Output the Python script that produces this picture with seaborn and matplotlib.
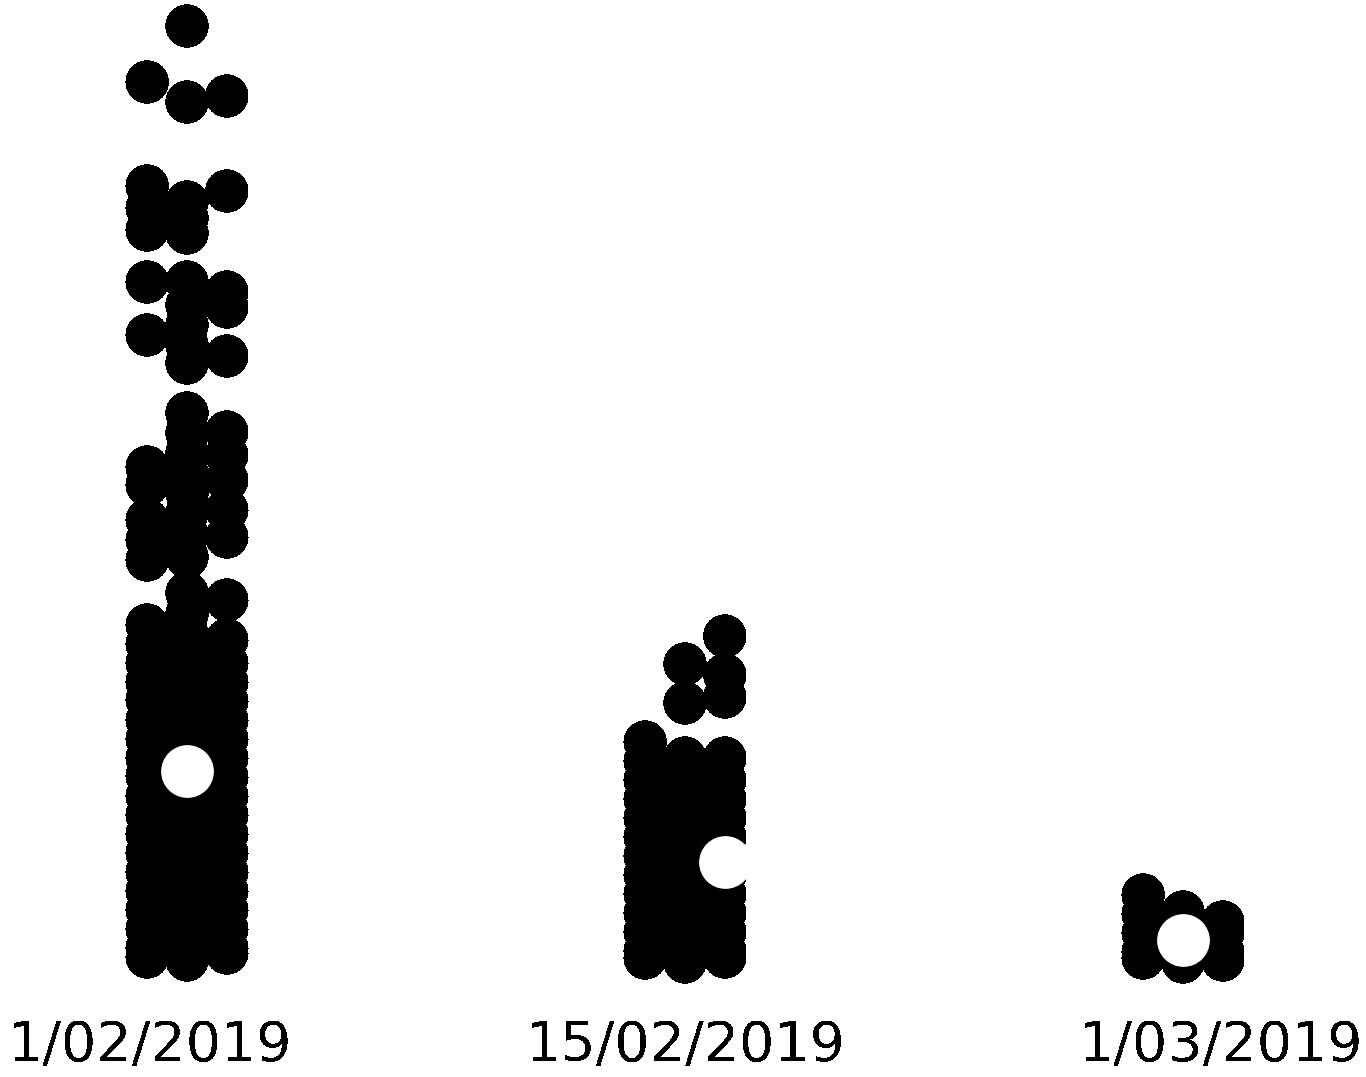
import numpy as np
import pandas as pd
import matplotlib
matplotlib.use("Agg")
import matplotlib.pyplot as plt
import matplotlib.transforms as mtransforms
import seaborn as sns

# ---------------------------------------------
# data (no value axis in the original, so the units are arbitrary)
# each date is drawn as three columns of dots: left / centre / right
# ---------------------------------------------
dates = ["1/02/2019", "15/02/2019", "1/03/2019"]

left_0102 = [88.0, 77.6, 75.4, 73.2, 68.0, 62.7, 49.5, 47.7, 44.2, 42.2, 40.2,
             33.7, 31.8, 29.9, 28.0, 26.2, 24.2, 22.3, 20.4, 18.6, 16.6, 14.7,
             12.8, 10.9, 9.0, 7.1, 5.2, 3.3, 1.4, 0.5]
centre_0102 = [93.6, 86.0, 76.0, 74.4, 72.9, 68.0, 65.7, 63.7, 61.7, 59.9,
               54.9, 52.9, 50.9, 48.9, 46.9, 44.9, 42.7, 40.5, 36.9, 34.8,
               32.8, 30.9, 29.0, 27.1, 25.2, 23.3, 21.4, 19.5, 17.6, 15.7,
               13.8, 11.9, 10.0, 8.1, 6.2, 4.3, 2.4, 0.2]
right_0102 = [86.6, 77.1, 67.0, 65.5, 60.6, 53.0, 50.7, 48.2, 45.2, 42.5,
              36.2, 32.2, 29.9, 28.0, 26.1, 24.2, 22.3, 20.4, 18.5, 16.6, 14.7,
              12.8, 10.9, 9.0, 7.1, 5.2, 3.3, 1.4, 0.9]

left_1502 = [22.0, 20.1, 18.2, 16.3, 14.4, 12.5, 10.6, 8.7, 6.8, 4.9, 3.0,
             1.1, 0.4]
centre_1502 = [29.8, 25.9, 20.4, 19.1, 17.2, 15.3, 13.4, 11.5, 9.6, 7.7, 5.8,
               3.9, 2.0, 0.0]
right_1502 = [32.6, 28.7, 26.5, 20.4, 18.2, 16.3, 14.4, 12.5, 10.6, 8.7, 6.8,
              4.9, 3.0, 1.1, 0.5]

left_0103 = [6.7, 4.8, 2.9, 1.0, 0.4]
centre_0103 = [5.0, 3.8, 1.9, 0.0]
right_0103 = [4.0, 2.9, 1.0, 0.2]

# one highlighted observation per date (the white dot)
hl_lane = ["C", "R", "C"]
hl_value = [19.1, 10.0, 2.2]

rows = []
for d, l, c, r in zip(dates,
                      [left_0102, left_1502, left_0103],
                      [centre_0102, centre_1502, centre_0103],
                      [right_0102, right_1502, right_0103]):
    for lane, vals in zip(["L", "C", "R"], [l, c, r]):
        rows += [(d, lane, v) for v in vals]
df = pd.DataFrame(rows, columns=["date", "lane", "value"])
df_hl = pd.DataFrame({"date": dates, "lane": hl_lane, "value": hl_value})

# dodging splits 0.8 of a slot between the hue levels -> ten levels put the
# columns 0.08 apart (about one dot); only three of them are used
slot_order = ["s0", "s1", "s2", "L", "C", "R", "s6", "s7", "s8", "s9"]

# ---------------------------------------------
# plot
# ---------------------------------------------
sns.set_style("white")
plt.rcParams["font.family"] = ["DejaVu Sans"]
plt.rcParams["text.antialiased"] = False

fig = plt.figure(figsize=(13.66, 10.77), dpi=100)
ax = fig.add_axes([0, 0.0854, 1, 0.9146])

sns.stripplot(data=df, x="date", y="value", order=dates,
              hue="lane", hue_order=slot_order, dodge=True, jitter=False,
              palette={s: "black" for s in slot_order}, size=30.5,
              linewidth=0, antialiased=False, legend=False, ax=ax)
sns.stripplot(data=df_hl, x="date", y="value", order=dates,
              hue="lane", hue_order=slot_order, dodge=True, jitter=False,
              palette={s: "white" for s in slot_order}, size=38,
              linewidth=0, antialiased=False, legend=False, ax=ax)

# the used columns are centred 0.04 left of each category
ax.set_xlim(-0.4155, 2.3275)
ax.set_ylim(-2.3, 96.2)
ax.set(xlabel="", ylabel="", yticks=[])
sns.despine(ax=ax, left=True, bottom=True)
ax.tick_params(axis="x", length=0, pad=25, labelsize=40, colors="black")

# nudge the date labels to where the original has them
for lab, dx in zip(ax.get_xticklabels(), [-0.57, -0.19, 0.18]):
    lab.set_transform(lab.get_transform()
                      + mtransforms.ScaledTranslation(dx, 0, fig.dpi_scale_trans))

fig.savefig("out.png", dpi=100)
